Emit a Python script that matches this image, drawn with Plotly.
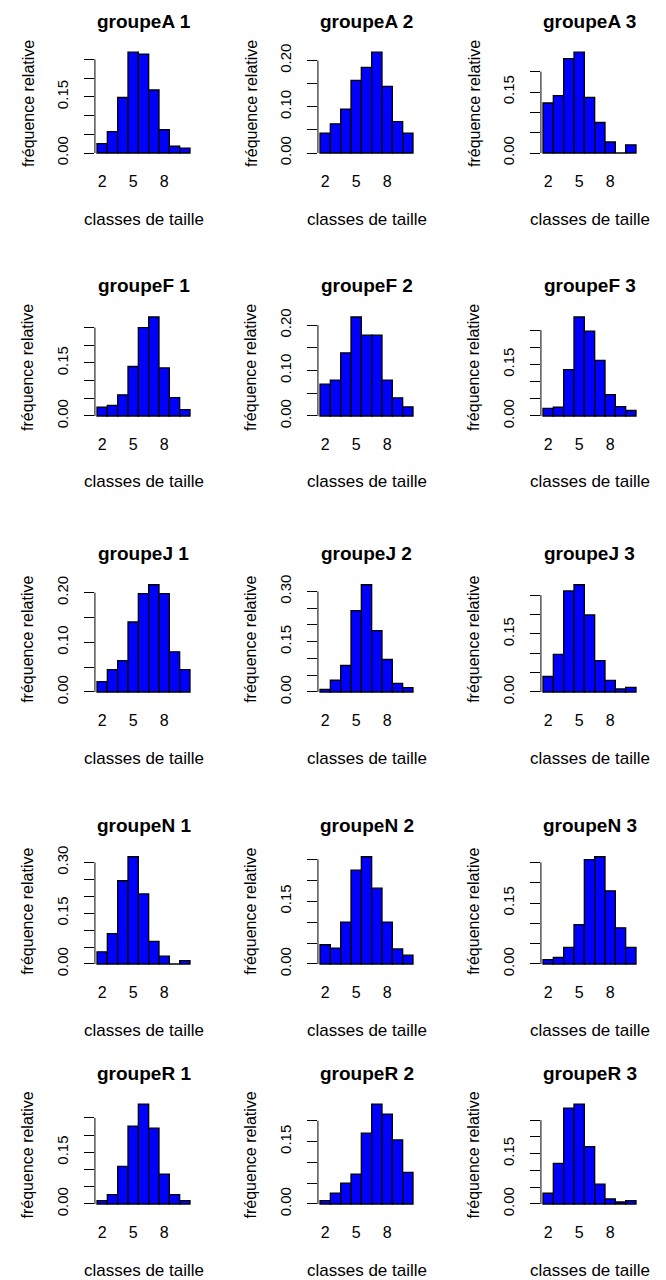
import plotly.graph_objects as go

# ---- data ----
classes = [2, 3, 4, 5, 6, 7, 8, 9, 10]
x_tick_vals = [2, 5, 8]
y_tick_vals = [0.00, 0.05, 0.10, 0.15, 0.20, 0.25, 0.30]

titles = ["groupeA 1", "groupeA 2", "groupeA 3",
          "groupeF 1", "groupeF 2", "groupeF 3",
          "groupeJ 1", "groupeJ 2", "groupeJ 3",
          "groupeN 1", "groupeN 2", "groupeN 3",
          "groupeR 1", "groupeR 2", "groupeR 3"]

freq_A1 = [0.025, 0.057, 0.148, 0.269, 0.264, 0.168, 0.062, 0.018, 0.013]
freq_A2 = [0.043, 0.063, 0.095, 0.157, 0.185, 0.218, 0.144, 0.068, 0.043]
freq_A3 = [0.123, 0.141, 0.232, 0.248, 0.137, 0.075, 0.027, 0.000, 0.020]
freq_F1 = [0.025, 0.030, 0.060, 0.140, 0.250, 0.280, 0.136, 0.052, 0.018]
freq_F2 = [0.070, 0.079, 0.139, 0.218, 0.178, 0.178, 0.079, 0.040, 0.020]
freq_F3 = [0.022, 0.026, 0.135, 0.288, 0.247, 0.162, 0.062, 0.027, 0.016]
freq_J1 = [0.021, 0.045, 0.063, 0.141, 0.198, 0.216, 0.198, 0.081, 0.045]
freq_J2 = [0.008, 0.035, 0.079, 0.243, 0.320, 0.183, 0.097, 0.026, 0.013]
freq_J3 = [0.040, 0.097, 0.261, 0.277, 0.199, 0.081, 0.030, 0.008, 0.012]
freq_N1 = [0.036, 0.090, 0.246, 0.317, 0.207, 0.067, 0.023, 0.000, 0.010]
freq_N2 = [0.046, 0.038, 0.100, 0.224, 0.256, 0.181, 0.100, 0.036, 0.021]
freq_N3 = [0.011, 0.016, 0.041, 0.097, 0.257, 0.264, 0.180, 0.089, 0.041]
freq_R1 = [0.010, 0.027, 0.109, 0.226, 0.290, 0.220, 0.087, 0.027, 0.010]
freq_R2 = [0.008, 0.026, 0.050, 0.072, 0.170, 0.240, 0.216, 0.154, 0.076]
freq_R3 = [0.032, 0.121, 0.286, 0.298, 0.171, 0.059, 0.015, 0.006, 0.010]

# y tick labels per panel (R drops labels that would overlap)
ylab_A1 = ["0.00", "", "", "0.15", "", ""]
ylab_A2 = ["0.00", "", "0.10", "", "0.20"]
ylab_A3 = ["0.00", "", "", "0.15", ""]
ylab_F1 = ["0.00", "", "", "0.15", "", ""]
ylab_F2 = ["0.00", "", "0.10", "", "0.20"]
ylab_F3 = ["0.00", "", "", "0.15", "", ""]
ylab_J1 = ["0.00", "", "0.10", "", "0.20"]
ylab_J2 = ["0.00", "", "", "0.15", "", "", "0.30"]
ylab_J3 = ["0.00", "", "", "0.15", "", ""]
ylab_N1 = ["0.00", "", "", "0.15", "", "", "0.30"]
ylab_N2 = ["0.00", "", "", "0.15", "", ""]
ylab_N3 = ["0.00", "", "", "0.15", "", ""]
ylab_R1 = ["0.00", "", "", "0.15", "", ""]
ylab_R2 = ["0.00", "", "", "0.15", ""]
ylab_R3 = ["0.00", "", "", "0.15", "", ""]

series = [freq_A1, freq_A2, freq_A3, freq_F1, freq_F2, freq_F3,
          freq_J1, freq_J2, freq_J3, freq_N1, freq_N2, freq_N3,
          freq_R1, freq_R2, freq_R3]
ylabels = [ylab_A1, ylab_A2, ylab_A3, ylab_F1, ylab_F2, ylab_F3,
           ylab_J1, ylab_J2, ylab_J3, ylab_N1, ylab_N2, ylab_N3,
           ylab_R1, ylab_R2, ylab_R3]

xlabel = "classes de taille"
ylabel = "fréquence relative"

# ---- layout (pixels) ----
W, H = 666, 1280
col_bar_start = [97, 320, 543]
px_per_class = 93.0 / 9
row_zero = [153, 416, 692, 964, 1204]
row_height = [110, 108, 117, 117, 109]

FONT = "Liberation Sans, Arial, sans-serif"


def fx(px):
    return px / W


def fy(py):
    return 1 - py / H


fig = go.Figure()
annotations = []
shapes = []

for i, vals in enumerate(series):
    r, c = divmod(i, 3)
    k = i + 1
    xa = "xaxis" if k == 1 else f"xaxis{k}"
    ya = "yaxis" if k == 1 else f"yaxis{k}"
    xr = "x" if k == 1 else f"x{k}"
    yr = "y" if k == 1 else f"y{k}"

    fig.add_trace(go.Bar(
        x=classes, y=vals, width=1.0,
        marker=dict(color="#0000FF", line=dict(color="black", width=1.3)),
        xaxis=xr, yaxis=yr, showlegend=False, hoverinfo="skip",
    ))

    x_lo, x_hi = 1.3, 10.7
    left = col_bar_start[c] - (1.5 - x_lo) * px_per_class
    right = col_bar_start[c] + (x_hi - 1.5) * px_per_class

    hgt = row_height[r]
    bottom = row_zero[r] + 0.0462 * hgt
    top = bottom - hgt

    m = max(vals)
    y_lo, y_hi = -0.0504 * m, 1.0404 * m

    tv = y_tick_vals[:len(ylabels[i])]

    fig.layout[xa] = dict(
        domain=[fx(left), fx(right)], range=[x_lo, x_hi], anchor=yr,
        showline=False, showgrid=False, zeroline=False, ticks="",
        tickvals=x_tick_vals, ticktext=[str(v) for v in x_tick_vals],
        tickfont=dict(family=FONT, size=16, color="black"),
        ticklabelstandoff=12, fixedrange=True, automargin=False,
    )
    fig.layout[ya] = dict(
        domain=[fy(bottom), fy(top)], range=[y_lo, y_hi], anchor=xr,
        showline=False, showgrid=False, zeroline=False,
        ticks="outside", ticklen=10, tickwidth=1, tickcolor="black",
        tickvals=tv, ticktext=ylabels[i], tickangle=-90,
        tickfont=dict(family=FONT, size=15, color="black"),
        ticklabelstandoff=10, fixedrange=True, automargin=False,
    )

    # R-style y axis line spanning first to last tick
    shapes.append(dict(type="line", xref=f"{xr} domain", x0=0, x1=0,
                       yref=yr, y0=tv[0], y1=tv[-1],
                       line=dict(color="black", width=1)))

    cx = (left + right) / 2
    cy = (top + bottom) / 2
    annotations.append(dict(text=f"<b>{titles[i]}</b>", xref="paper", yref="paper",
                            x=fx(cx), y=fy(top - 27), showarrow=False,
                            xanchor="center", yanchor="middle",
                            font=dict(family=FONT, size=19, color="black")))
    annotations.append(dict(text=xlabel, xref="paper", yref="paper",
                            x=fx(cx), y=fy(bottom + 61), showarrow=False,
                            xanchor="center", yanchor="middle",
                            font=dict(family=FONT, size=17, color="black")))
    annotations.append(dict(text=ylabel, xref="paper", yref="paper",
                            x=fx(left - 67), y=fy(cy), showarrow=False,
                            textangle=-90, xanchor="center", yanchor="middle",
                            font=dict(family=FONT, size=16, color="black")))

fig.update_layout(
    template="none",
    width=W, height=H, margin=dict(l=0, r=0, t=0, b=0, autoexpand=False),
    paper_bgcolor="white", plot_bgcolor="white",
    bargap=0, annotations=annotations, shapes=shapes,
    showlegend=False,
)

fig.write_html("out.html",
               config={"displayModeBar": False, "staticPlot": True},
               post_script="document.body.style.margin='0px';document.body.style.overflow='hidden';")
